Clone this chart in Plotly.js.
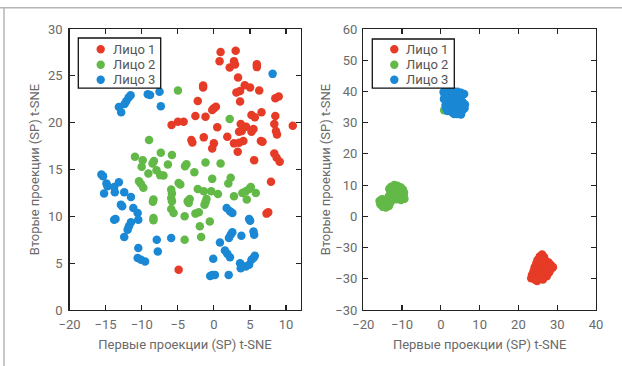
<!DOCTYPE html>
<html>
<head>
<meta charset="utf-8">
<script src="https://cdn.plot.ly/plotly-3.0.1.min.js"></script>
<style>html,body{margin:0;padding:0;background:#fff;}#chart{width:622px;height:366px;}</style>
</head>
<body>
<div id="chart"></div>
<script>
// ---------- Data: left panel ----------
const leftFace1X = [0.93,3.02,0.79,2.79,2.19,2.93,5.95,5.95,3.35,4.28,5.02,6.28,-1.49,-1.49,3.12,3.63,3.63,-2.23,0.0,0.28,-0.23,8.51,8.98,-2.56,-1.16,5.21,5.67,6.60,-4.19,-4.98,-5.86,8.51,8.37,10.93,3.72,4.47,3.86,3.49,5.49,5.21,0.47,8.60,8.74,-3.12,-2.98,-1.40,1.86,2.79,3.49,4.09,6.51,6.74,0.0,-0.23,3.30,8.37,8.70,9.12,5.58,7.91,7.30,7.53,-4.88];
const leftFace1Y = [27.54,27.68,26.57,26.57,25.89,26.21,26.25,25.93,24.82,24.0,23.75,23.43,23.96,23.75,23.21,23.39,22.25,22.32,21.54,21.71,21.36,22.61,22.79,20.71,20.64,20.82,20.57,21.11,20.11,20.11,19.75,20.71,19.86,19.68,19.86,19.57,19.11,19.04,19.32,19.04,19.5,19.11,18.75,18.14,17.89,18.43,18.5,17.79,17.86,18.04,18.04,17.96,17.79,17.25,16.89,16.71,16.25,15.82,16.0,13.68,10.29,10.43,4.29];

const leftFace2X = [-4.98,2.19,-8.98,-10.93,-9.86,-8.5,-8.3,-7.35,-5.81,-6.37,-10.0,-3.8,-4.0,-1.16,0.93,-2.7,-0.23,2.33,2.0,-7.95,-7.44,-6.98,-9.07,-10.37,-10.09,-9.77,-4.88,-4.65,-5.91,-5.81,-5.91,-5.81,-8.37,-8.45,-5.91,-5.58,-4.05,-8.37,-8.37,-4.05,-2.23,-1.40,-0.37,0.56,-3.35,-3.63,-3.49,-1.02,-1.16,-1.30,2.79,3.95,4.42,4.88,5.12,5.81,4.56,-2.09,-2.56,-0.56,-1.95,-1.77];
const leftFace2Y = [23.43,20.39,18.14,16.36,16.0,15.65,15.9,16.79,16.54,15.54,15.29,15.55,15.35,15.75,15.65,14.7,14.0,14.11,13.5,14.93,14.4,14.35,14.57,13.75,13.45,13.04,13.57,13.39,12.86,12.45,11.96,11.6,11.79,11.55,10.79,10.36,10.0,9.82,9.57,7.5,12.93,12.68,12.68,12.39,11.86,11.61,11.43,11.86,11.5,11.25,12.14,12.5,12.68,12.93,13.14,12.5,11.79,10.43,10.29,9.46,8.93,7.79];

const leftFace3X = [-11.53,-11.81,-12.14,-12.37,-13.16,-12.84,-9.16,-8.84,-7.53,-7.35,8.14,-15.58,-15.35,-14.88,-14.74,-15.21,-13.81,-13.72,-13.16,-12.42,-11.49,-12.88,-12.70,-11.16,-10.56,-10.47,-13.81,-13.63,-11.49,-11.77,-11.95,-12.42,-7.91,-5.91,-10.47,-7.77,-10.56,-10.09,-9.53,1.77,2.23,2.56,4.88,5.02,2.56,2.33,2.09,3.81,5.49,5.58,0.84,1.53,1.86,2.23,-0.09,3.63,3.95,4.42,4.88,5.21,5.49,5.67,3.72,-0.51,-0.19,0.14,2.05];
const leftFace3Y = [22.93,22.68,22.29,22.0,21.68,21.11,23.04,22.96,23.29,21.75,25.21,14.46,14.29,13.5,13.21,12.43,13.14,12.57,13.64,12.57,12.07,11.25,11.07,10.89,10.36,9.64,9.64,9.71,9.36,8.93,8.57,7.79,7.5,7.68,6.61,6.25,5.54,5.36,5.18,10.89,10.54,10.36,9.71,9.54,8.29,8.04,7.68,7.93,8.39,8.04,7.21,6.36,6.0,5.64,5.46,5.0,4.71,4.64,4.82,5.36,5.54,5.79,4.46,3.64,3.75,3.75,3.75];

// ---------- Data: right panel ----------
const rightFace1X = [26.1,25.5,26.6,24.9,25.9,27.0,27.8,24.6,25.6,26.6,28.4,28.9,24.2,25.2,26.3,27.4,28.3,23.9,24.8,25.9,27.0,27.9,23.5,24.5,25.5,26.6,27.3,23.3,24.3,25.3,26.3,24.8];
const rightFace1Y = [-12.2,-12.9,-13.0,-14.0,-14.0,-14.2,-14.8,-15.1,-15.3,-15.4,-15.6,-16.3,-16.3,-16.6,-16.6,-16.5,-17.0,-17.5,-17.8,-17.7,-17.8,-18.0,-18.7,-19.0,-18.9,-19.1,-19.2,-19.8,-20.3,-20.1,-20.2,-20.7];

const rightFace2X = [-12.0,-11.2,-12.8,-10.4,-11.6,-13.3,-9.8,-12.4,-10.9,-11.8,-13.0,-9.5,-10.4,-12.6,-11.2,-9.6,-13.4,-10.7,-12.1,-9.4,-11.5,-10.3,-12.8,-15.8,-15.2,-14.5,-13.6,-15.6,-14.8,-13.9,-15.0,-14.2,-13.4,-13.0,0.84];
const rightFace2Y = [10.0,9.8,9.5,9.3,9.1,8.8,8.6,8.5,8.4,7.9,7.8,7.6,7.4,7.1,7.0,6.6,6.5,6.3,6.2,5.6,5.5,5.2,5.6,4.9,5.5,5.3,5.0,3.9,4.2,4.0,3.1,2.8,3.3,4.4,34.0];

const rightFace3X = [0.7,1.5,2.5,3.4,4.3,5.2,6.0,1.0,2.0,3.0,4.0,5.3,0.8,1.8,2.7,3.6,4.4,1.5,2.6,3.5,4.6,5.6,6.2,3.2,4.2,5.3,6.1,3.6,4.6,5.5,4.2,5.2,1.2,2.0,2.4,2.9,3.4,1.35,1.7];
const rightFace3Y = [39.8,40.2,40.3,40.0,39.9,39.6,39.2,38.8,39.1,38.9,38.7,38.6,37.6,37.9,37.7,37.4,37.6,36.6,36.4,36.2,36.1,36.6,35.8,35.2,35.0,35.3,34.6,34.0,33.6,33.8,32.8,32.6,35.6,35.0,34.1,33.3,32.8,34.6,33.7];

const seriesNames = ['Лицо 1', 'Лицо 2', 'Лицо 3'];
const seriesColors = ['#e63b26', '#62b947', '#1a88d4'];

const leftXTicks = [-20,-15,-10,-5,0,5,10];
const leftYTicks = [0,5,10,15,20,25,30];
const rightXTicks = [-20,-10,0,10,20,30,40];
const rightYTicks = [60,50,40,30,20,10,0,-10,-20,-30];
const rightYTickText = ['60','50','40','30','20','10','0','\u221230','\u221230','\u221230'];

const xTitle = 'Первые проекции (SP) t-SNE';
const yTitle = 'Вторые проекции (SP) t-SNE';

// ---------- Build ----------
const FONT = '"Liberation Sans Narrow", "Arial Narrow", Roboto, sans-serif';
const GREY = '#6a6a6a';
const W = 622, H = 366;

function mk(x, y, i, xa, ya) {
  return {
    type: 'scatter', mode: 'markers', x: x, y: y, name: seriesNames[i],
    xaxis: xa, yaxis: ya, showlegend: false,
    marker: {color: seriesColors[i], size: 8.5, line: {width: 0}}
  };
}
const traces = [
  mk(leftFace1X, leftFace1Y, 0, 'x', 'y'),
  mk(leftFace2X, leftFace2Y, 1, 'x', 'y'),
  mk(leftFace3X, leftFace3Y, 2, 'x', 'y'),
  mk(rightFace1X, rightFace1Y, 0, 'x2', 'y2'),
  mk(rightFace2X, rightFace2Y, 1, 'x2', 'y2'),
  mk(rightFace3X, rightFace3Y, 2, 'x2', 'y2')
];

function ax(extra) {
  return Object.assign({
    showline: true, linecolor: '#222', linewidth: 1.3, mirror: 'ticks',
    ticks: 'inside', ticklen: 5, tickwidth: 1.2, tickcolor: '#222',
    showgrid: false, zeroline: false, fixedrange: true, automargin: false,
    tickfont: {family: FONT, size: 13, color: GREY}
  }, extra);
}
function ttl(t, s) { return {text: t, standoff: s, font: {family: FONT, size: 13, color: GREY}}; }

const MT = 29.3, MB = 56, PH = H - MT - MB;
function py2p(py) { return (H - MB - py) / PH; }   // pixel y -> paper y
function px2p(px) { return px / W; }

// outer frame (top and left edges) of the figure
const shapes = [
  {type: 'line', xref: 'paper', yref: 'paper', x0: px2p(-5), x1: px2p(W + 5), y0: py2p(8), y1: py2p(8), line: {color: '#b5b5b5', width: 1.5}},
  {type: 'line', xref: 'paper', yref: 'paper', x0: px2p(4), x1: px2p(4), y0: py2p(H + 5), y1: py2p(8), line: {color: '#b5b5b5', width: 1.5}}
];
const annotations = [];

// legend boxes drawn with shapes + text annotations (compact, as in the reference)
function legendBox(left, top, right, bottom, markerX, textX, rows) {
  shapes.push({type: 'rect', xref: 'paper', yref: 'paper', layer: 'above',
    x0: px2p(left), x1: px2p(right), y0: py2p(bottom), y1: py2p(top),
    fillcolor: '#fff', line: {color: '#111', width: 1.3}});
  const r = 4.2;
  rows.forEach((cy, i) => {
    shapes.push({type: 'circle', xref: 'paper', yref: 'paper', layer: 'above',
      x0: px2p(markerX - r), x1: px2p(markerX + r), y0: py2p(cy + r), y1: py2p(cy - r),
      fillcolor: seriesColors[i], line: {width: 0}});
    annotations.push({xref: 'paper', yref: 'paper', x: px2p(textX), y: py2p(cy),
      xanchor: 'left', yanchor: 'middle', showarrow: false, text: seriesNames[i],
      font: {family: FONT, size: 13, color: '#555'}});
  });
}
legendBox(78.3, 38.3, 160.7, 88.3, 100.7, 110.5, [49.5, 65, 80]);
legendBox(372.3, 39.3, 454.3, 88.3, 394.3, 404, [49.5, 65, 80]);

const layout = {
  width: W, height: H,
  margin: {l: 0, r: 0, t: MT, b: MB},
  paper_bgcolor: '#fff', plot_bgcolor: '#fff',
  font: {family: FONT, color: GREY},
  showlegend: false,
  xaxis: ax({domain: [69.5 / W, 300.5 / W], range: [-20, 12], tickvals: leftXTicks, anchor: 'y', ticklabelstandoff: 2, title: ttl(xTitle, 9)}),
  yaxis: ax({domain: [0, 1], range: [0, 30], tickvals: leftYTicks, anchor: 'x', ticklabelstandoff: 3, title: ttl(yTitle, 5)}),
  xaxis2: ax({domain: [363.3 / W, 596 / W], range: [-20, 40], tickvals: rightXTicks, anchor: 'y2', ticklabelstandoff: 2, title: ttl(xTitle, 9)}),
  yaxis2: ax({domain: [0, 1], range: [-30, 60], tickvals: rightYTicks, ticktext: rightYTickText, anchor: 'x2', ticklabelstandoff: 2, title: ttl(yTitle, 1)}),
  shapes: shapes,
  annotations: annotations
};

Plotly.newPlot('chart', traces, layout, {displayModeBar: false, staticPlot: true});
</script>
</body>
</html>
